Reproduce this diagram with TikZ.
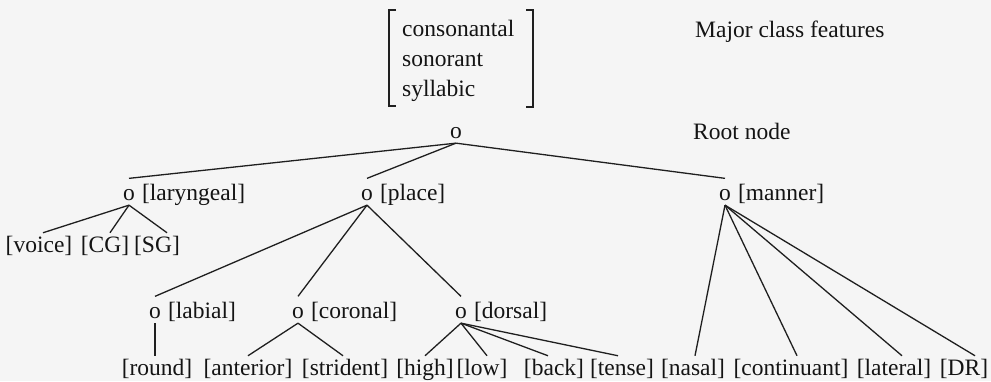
\documentclass[tikz,border=0pt]{standalone}
\usepackage{fontspec}
\setmainfont{Liberation Serif}
\begin{document}
\begin{tikzpicture}[x=1pt,y=-1pt,
  every node/.style={font=\fontsize{23.5}{30}\selectfont, text=black!92},
  onode/.style={inner sep=0pt, outer sep=0pt, anchor=center},
  txt/.style={inner sep=0pt, anchor=base west},
  leaf/.style={inner sep=1pt, outer sep=3pt, anchor=center, text height=16pt, text depth=4.5pt},
  edge/.style={line width=1.3pt, black!88},
  brk/.style={line width=1.5pt, black!88}]
\fill[black!4] (0,0) rectangle (991,381);
\useasboundingbox (0,0) rectangle (991,381);

% major class features
\node[txt] (f1) at (402,36) {consonantal};
\node[txt] (f2) at (402,66) {sonorant};
\node[txt] (f3) at (402,96) {syllabic};
\draw[brk] (396,10) -- (389,10) -- (389,106) -- (396,106);
\draw[brk] (526,10) -- (533,10) -- (533,107) -- (526,107);
\node[txt] (mcf) at (695,37) {Major class features};

% root
\node[onode] (root) at (456,133) {o};
\node[txt] (rn) at (693,139) {Root node};

% level 1
\node[onode] (lar) at (129,195) {o};
\node[txt] (larl) at ([xshift=7pt]lar.base east) {[laryngeal]};
\node[onode] (place) at (367,195) {o};
\node[txt] (placel) at ([xshift=7pt]place.base east) {[place]};
\node[onode] (man) at (725,195) {o};
\node[txt] (manl) at ([xshift=7pt]man.base east) {[manner]};

% level 2
\node[onode] (lab) at (155,313) {o};
\node[txt] (labl) at ([xshift=7pt]lab.base east) {[labial]};
\node[onode] (cor) at (298,313) {o};
\node[txt] (corl) at ([xshift=7pt]cor.base east) {[coronal]};
\node[onode] (dor) at (461,313) {o};
\node[txt] (dorl) at ([xshift=7pt]dor.base east) {[dorsal]};

% connection points of the o nodes
\foreach \n in {root,lar,place,man,lab,cor,dor}{
  \coordinate (\n-up) at ([yshift=11pt]\n.north);
  \coordinate (\n-dn) at ([yshift=-4.5pt]\n.south);
}

% laryngeal leaves
\node[leaf] (voice) at (39,247) {[voice]};
\node[leaf] (cg) at (105,247) {[CG]};
\node[leaf] (sg) at (157,247) {[SG]};

% bottom leaves
\node[leaf] (round) at (157,370) {[round]};
\node[leaf] (ant) at (248,370) {[anterior]};
\node[leaf] (str) at (345,370) {[strident]};
\node[leaf] (high) at (425,370) {[high]};
\node[leaf] (low) at (482,370) {[low]};
\node[leaf] (back) at (554,370) {[back]};
\node[leaf] (tense) at (622,370) {[tense]};
\node[leaf] (nasal) at (693,370) {[nasal]};
\node[leaf] (cont) at (791,370) {[continuant]};
\node[leaf] (lat) at (894,370) {[lateral]};
\node[leaf] (dr) at (964,370) {[DR]};

% edges
\draw[edge] (root-dn) -- (lar-up);
\draw[edge] (root-dn) -- (place-up);
\draw[edge] (root-dn) -- (man-up);

\draw[edge] (lar-dn) -- ([xshift=4pt]voice.north);
\draw[edge] (lar-dn) -- ([xshift=5pt]cg.north);
\draw[edge] (lar-dn) -- ([xshift=10pt]sg.north);

\draw[edge] (place-dn) -- (lab-up);
\draw[edge] (place-dn) -- (cor-up);
\draw[edge] (place-dn) -- (dor-up);

\draw[edge] (lab-dn) -- ([xshift=-2pt]round.north);
\draw[edge] (cor-dn) -- (ant.north);
\draw[edge] (cor-dn) -- ([xshift=-2pt]str.north);

\draw[edge] (dor-dn) -- (high.north);
\draw[edge] (dor-dn) -- ([xshift=5pt]low.north);
\draw[edge] (dor-dn) -- ([xshift=-6pt]back.north);
\draw[edge] (dor-dn) -- ([xshift=-4pt]tense.north);

\draw[edge] (man-dn) -- ([xshift=2pt]nasal.north);
\draw[edge] (man-dn) -- ([xshift=6pt]cont.north);
\draw[edge] (man-dn) -- ([xshift=8pt]lat.north);
\draw[edge] (man-dn) -- ([xshift=11pt]dr.north);
\end{tikzpicture}
\end{document}
